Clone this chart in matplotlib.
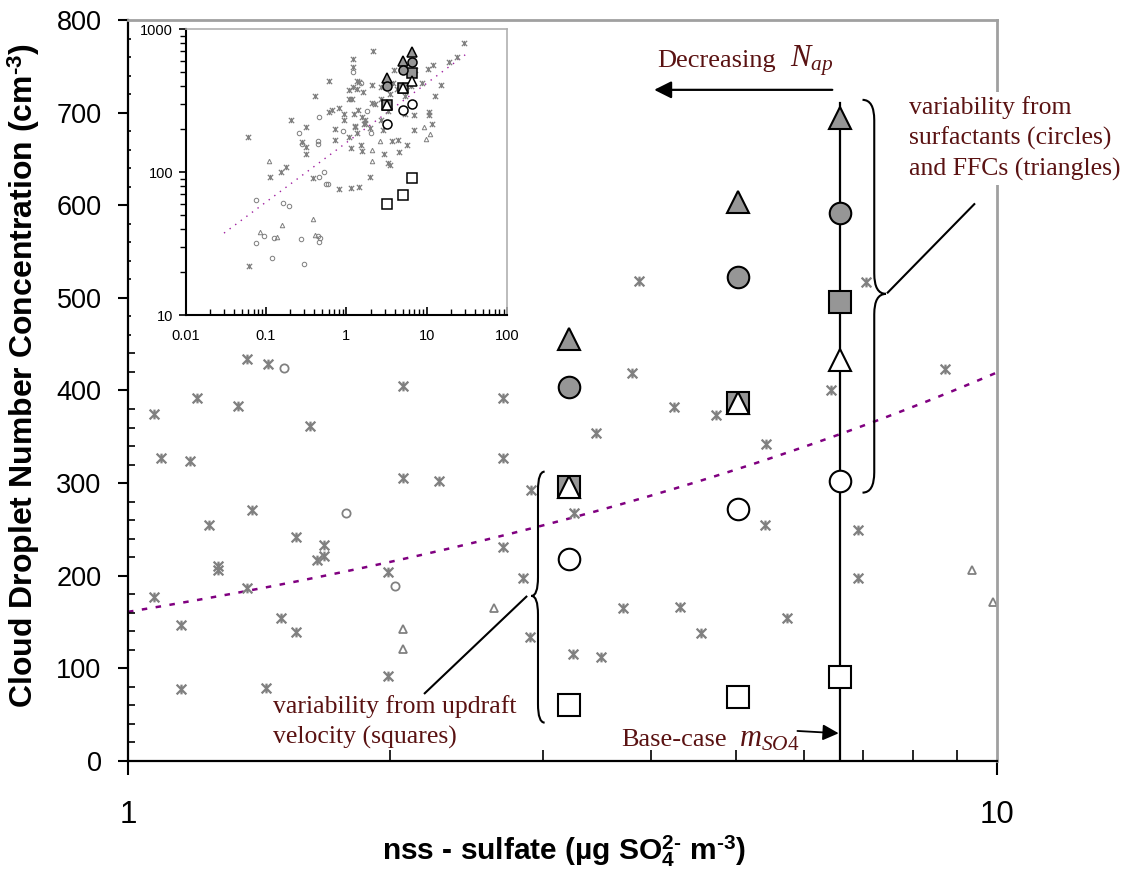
import numpy as np
import matplotlib
matplotlib.use("Agg")
import matplotlib.pyplot as plt
from matplotlib.path import Path
from matplotlib.patches import PathPatch, Rectangle
from matplotlib.ticker import FixedLocator, NullFormatter

plt.rcParams['font.family'] = ['Liberation Sans', 'DejaVu Sans']
plt.rcParams['mathtext.fontset'] = 'custom'
plt.rcParams['mathtext.rm'] = 'Liberation Serif'
plt.rcParams['mathtext.it'] = 'Liberation Serif:italic'
plt.rcParams['mathtext.bf'] = 'Liberation Sans:bold'

# observed nss-sulfate (ug/m3) and CDNC (cm-3), asterisks
obs_x = [1.37, 1.45, 2.07, 1.20, 2.70, 1.071, 1.34, 1.62, 1.09, 1.18, 2.70, 2.07, 2.28, 2.91,
         1.39, 1.24, 1.56, 1.68, 1.68, 1.65, 2.70, 1.27, 1.27, 1.99, 2.85, 1.071, 1.37, 1.50,
         1.15, 1.56, 2.90, 1.99, 1.15, 1.44, 3.80, 4.25, 4.75, 3.45, 6.43, 8.70, 5.42, 3.26,
         5.41, 6.92, 6.92, 3.71, 4.32, 5.73, 4.56, 3.25, 3.50, 3.87, 7.07,
         1.19, 1.19, 2.15, 29.2, 23.5, 19.0, 12.0, 10.2, 14.9, 12.6, 10.6, 10.6, 11.5,
         0.60, 0.41, 0.202, 0.605, 0.665, 0.80, 0.92, 0.92, 0.31, 0.72, 0.059, 0.28, 0.31,
         0.31, 0.72, 0.175, 0.153, 0.112, 0.383, 0.81, 0.061]
obs_y = [434, 429, 405, 392, 392, 375, 383, 362, 327.5, 324, 327.5, 305, 302, 292.6,
         270.7, 255, 241.5, 233, 221, 217, 231, 210, 206, 204, 198, 177, 186.5, 154,
         147, 139.6, 134, 92, 77.7, 78.5, 419, 382.6, 374, 354, 400, 423, 342, 267.5,
         255, 249.5, 198, 165.5, 166.6, 154, 138, 115, 112.6, 518, 517,
         621, 548, 710, 807, 638, 594, 563, 526, 406, 344, 264, 251, 218,
         434, 340, 230, 262, 274, 282, 256, 233, 206, 202, 175, 163, 149,
         135, 167, 108, 100, 92, 90.6, 76.6, 22.0]

# small circles and triangles (other observations)
circ_x = [1.51, 1.78, 2.03, 1.19, 0.45, 0.257, 0.91, 0.28, 0.44, 0.44, 0.52, 0.45, 0.56, 0.59,
          0.076, 0.164, 0.195, 0.093, 0.125, 0.27, 0.44, 0.47, 0.46, 0.076, 0.117, 0.296]
circ_y = [424, 268, 189, 503, 244, 188, 195, 158, 164, 157, 100, 92.5, 83, 83,
          64, 60.8, 57.7, 35.7, 34.6, 34.2, 35.6, 34.4, 32.4, 31.9, 24.9, 22.9]
tri_x = [2.64, 2.07, 2.07, 9.35, 9.89, 0.109, 0.38, 0.158, 0.083, 0.137, 0.41, 10.9]
tri_y = [165, 142, 120.6, 206, 172, 120, 47, 42.7, 38.1, 35.2, 36.1, 186]

# model runs at three sulfate levels (base case = last)
model_so4 = [3.22, 5.03, 6.60]
ffc_hi = [456, 604, 694]       # grey triangles
surf_hi = [403.5, 522, 592]    # grey circles
updraft_hi = [296, 386, 496]   # grey squares
ffc_lo = [296, 386, 433]       # white triangles
surf_lo = [218, 272, 302]      # white circles
updraft_lo = [60, 69, 91]      # white squares

# power-law trendline y = a x^b
fit_a, fit_b = 161.0, 0.416

grey = '#808080'
fillg = '#969696'
txtc = '#5a1212'
serif = 'Liberation Serif'
star = Path([(-1, -1), (1, 1), (-1, 1), (1, -1), (0, -1), (0, 1)],
            [Path.MOVETO, Path.LINETO, Path.MOVETO, Path.LINETO, Path.MOVETO, Path.LINETO])


def brace(ax, x0, x1, y0, y1, ytip, r, **kw):
    xm = (x0 + x1) / 2
    verts = [(x0, y1), (xm, y1), (xm, y1 - r), (xm, ytip + r), (xm, ytip), (x1, ytip),
             (xm, ytip), (xm, ytip - r), (xm, y0 + r), (xm, y0), (x0, y0)]
    codes = [Path.MOVETO, Path.CURVE3, Path.CURVE3, Path.LINETO, Path.CURVE3, Path.CURVE3,
             Path.CURVE3, Path.CURVE3, Path.LINETO, Path.CURVE3, Path.CURVE3]
    ax.add_patch(PathPatch(Path(verts, codes), transform=ax.get_yaxis_transform(),
                           fc='none', ec='black', clip_on=False, **kw))


def draw_points(ax, small, big, mew_s, mew_b):
    ax.plot(obs_x, obs_y, ls='none', marker=star, ms=small, mec=grey, mew=mew_s, zorder=2)
    ax.plot(circ_x, circ_y, ls='none', marker='o', ms=small * 0.85, mfc='none', mec=grey,
            mew=mew_s * 0.8, zorder=2)
    ax.plot(tri_x, tri_y, ls='none', marker='^', ms=small * 0.85, mfc='none', mec=grey,
            mew=mew_s * 0.8, zorder=2)
    kw = dict(ls='none', ms=big, mec='black', mew=mew_b, zorder=4)
    ax.plot(model_so4, updraft_hi, marker='s', mfc=fillg, **kw)
    ax.plot(model_so4, ffc_hi, marker='^', mfc=fillg, **kw)
    ax.plot(model_so4, surf_hi, marker='o', mfc=fillg, **kw)
    ax.plot(model_so4, ffc_lo, marker='^', mfc='white', **kw)
    ax.plot(model_so4, surf_lo, marker='o', mfc='white', **kw)
    ax.plot(model_so4, updraft_lo, marker='s', mfc='white', **kw)


fig = plt.figure(figsize=(11.46, 8.77), dpi=100)
ax = fig.add_axes([0.1117, 0.1323, 0.7585, 0.8449])
ax.set_xscale('log')
ax.set_xlim(1, 10)
ax.set_ylim(0, 800)

fx = np.logspace(0, 1, 200)
ax.plot(fx, fit_a * fx ** fit_b, color='#800080', lw=1.8, ls=(0, (2.2, 3.4)), zorder=1)
ax.plot([model_so4[2], model_so4[2]], [0, 710.6], color='black', lw=1.6, zorder=3)
draw_points(ax, 7, 15.5, 1.6, 1.5)

ax.xaxis.set_major_locator(FixedLocator([1, 10]))
ax.set_xticklabels(['1', '10'])
ax.xaxis.set_minor_locator(FixedLocator(range(2, 10)))
ax.xaxis.set_minor_formatter(NullFormatter())
ax.yaxis.set_major_locator(FixedLocator(range(0, 801, 100)))
ax.yaxis.set_minor_locator(FixedLocator(range(0, 801, 20)))
ax.tick_params(axis='x', which='major', direction='out', length=10, width=1.5, pad=18,
               labelsize=22.5)
ax.tick_params(axis='x', which='minor', direction='in', length=8, width=1.2)
ax.tick_params(axis='y', which='major', direction='out', length=7, width=1.5, pad=12,
               labelsize=19.5)
ax.tick_params(axis='y', which='minor', direction='in', length=5, width=1.2)
for s in ['left', 'bottom']:
    ax.spines[s].set_linewidth(1.6)
for s in ['top', 'right']:
    ax.spines[s].set_color('#a0a0a0')
    ax.spines[s].set_linewidth(2)

ax.set_ylabel('Cloud Droplet Number Concentration (cm$^{\\mathbf{\u20103}}$)', fontsize=23,
              fontweight='bold')
ax.yaxis.set_label_coords(-0.099, 0.52)
ax.set_xlabel('nss - sulfate (µg SO$_{\\mathbf{4}}^{\\mathbf{2\u2010}}$ m$^{\\mathbf{\u20103}}$)',
              fontsize=21.5, fontweight='bold')
ax.xaxis.set_label_coords(0.502, -0.097)

# annotations
ax.annotate('', xy=(4.03, 724.6), xytext=(6.46, 724.6),
            arrowprops=dict(arrowstyle='-|>', color='black', lw=1.6, mutation_scale=26,
                            shrinkA=0, shrinkB=0))
ax.text(4.06, 749.5, 'Decreasing', fontsize=19, color=txtc, family=serif,
        va='baseline', ha='left')
ax.text(5.77, 749.5, r'$N_{ap}$', fontsize=22, color=txtc, va='baseline', ha='left')
ax.annotate('', xy=(6.57, 29.9), xytext=(5.89, 32.4),
            arrowprops=dict(arrowstyle='-|>', color='black', lw=1.3, mutation_scale=24,
                            shrinkA=0, shrinkB=0))
ax.text(3.69, 16, 'Base-case', fontsize=19, color=txtc, family=serif,
        va='baseline', ha='left')
ax.text(5.05, 16, r'$m_{SO4}$', fontsize=22, color=txtc, va='baseline', ha='left')

brace(ax, 0.845, 0.872, 289.7, 713.8, 504.3, 22, lw=1.5)
ax.plot([0.874, 0.9736], [505.7, 601.2], color='black', lw=1.5,
        transform=ax.get_yaxis_transform(), clip_on=False)
ax.text(0.899, 718, 'variability from\nsurfactants (circles)\nand FFCs (triangles)',
        transform=ax.get_yaxis_transform(), fontsize=18.5, color=txtc, family=serif,
        linespacing=1.43, va='top', ha='left', clip_on=False, zorder=6,
        bbox=dict(fc='white', ec='none', pad=3))

brace(ax, 0.4793, 0.464, 41.4, 312.4, 178.2, 20, lw=1.5)
ax.plot([0.4583, 0.3414], [177.4, 73.1], color='black', lw=1.5,
        transform=ax.get_yaxis_transform(), clip_on=False)
ax.text(0.167, 71, 'variability from updraft\nvelocity (squares)',
        transform=ax.get_yaxis_transform(), fontsize=18.5, color=txtc, family=serif,
        linespacing=1.45, va='top', ha='left', zorder=6)

# white backdrop for the inset chart
ax.add_patch(Rectangle((0.1143, 0.6066), 0.3395, 0.3683, transform=fig.transFigure,
                       fc='white', ec='none', zorder=5, clip_on=False))

# inset: log-log view of all data
ins = fig.add_axes([0.162, 0.6408, 0.2806, 0.3258])
ins.set_xscale('log')
ins.set_yscale('log')
ins.set_xlim(0.01, 100)
ins.set_ylim(10, 1000)
ix = np.logspace(np.log10(0.03), np.log10(30), 100)
ins.plot(ix, fit_a * ix ** fit_b, color='#a020a0', lw=1.0, ls=(0, (1, 4)), zorder=1)
draw_points(ins, 3.8, 6.5, 0.9, 1.1)
ins.xaxis.set_major_locator(FixedLocator([0.01, 0.1, 1, 10, 100]))
ins.set_xticklabels(['0.01', '0.1', '1', '10', '100'])
ins.yaxis.set_major_locator(FixedLocator([10, 100, 1000]))
ins.set_yticklabels(['10', '100', '1000'])
ins.xaxis.set_minor_locator(FixedLocator([m * 10.0 ** e for e in range(-2, 2) for m in range(2, 10)]))
ins.yaxis.set_minor_locator(FixedLocator([m * 10.0 ** e for e in range(1, 3) for m in range(2, 10)]))
ins.xaxis.set_minor_formatter(NullFormatter())
ins.yaxis.set_minor_formatter(NullFormatter())
ins.tick_params(axis='x', which='major', direction='in', length=6, width=1.2, pad=10,
                labelsize=10.5)
ins.tick_params(axis='x', which='minor', direction='in', length=4, width=1)
ins.tick_params(axis='y', which='major', direction='out', length=5, width=1.2, pad=4,
                labelsize=10.5)
ins.tick_params(axis='y', which='minor', direction='out', length=4, width=1)
for s in ['left', 'bottom']:
    ins.spines[s].set_linewidth(1.5)
for s in ['top', 'right']:
    ins.spines[s].set_color('#b0b0b0')
    ins.spines[s].set_linewidth(1.2)

fig.savefig('out.png', dpi=100)
